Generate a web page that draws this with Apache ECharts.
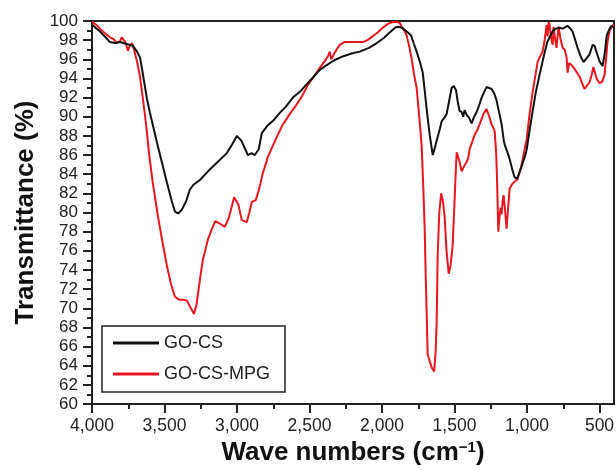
<!DOCTYPE html>
<html>
<head>
<meta charset="utf-8">
<script src="https://cdn.jsdelivr.net/npm/echarts@6/dist/echarts.min.js"></script>
<style>
html,body{margin:0;padding:0;background:#fff;}
#chart{width:616px;height:470px;}
</style>
</head>
<body>
<div id="chart"></div>
<script>
var seriesNames = ['GO-CS', 'GO-CS-MPG'];
var xMajorTicks = [4000, 3500, 3000, 2500, 2000, 1500, 1000, 500];
var xMinorTicks = [3750, 3250, 2750, 2250, 1750, 1250, 750];

var goCS = [
[4000,99.6],[3960,99.1],[3945,98.9],[3900,98.2],[3876,97.8],[3840,97.7],[3807,97.8],[3760,97.6],[3717,97.4],[3690,96.8],
[3669,96.2],[3655,95.0],[3640,93.6],[3620,91.8],[3600,90.4],[3552,87.3],[3483,83.1],[3450,81.2],[3428,80.1],[3405,79.9],
[3380,80.3],[3350,81.2],[3325,82.4],[3300,82.9],[3256,83.4],[3200,84.3],[3139,85.2],[3070,86.2],[3030,87.2],[3001,88.0],
[2970,87.5],[2940,86.5],[2925,86.0],[2900,86.2],[2877,86.0],[2850,86.6],[2829,88.3],[2794,89.0],[2750,89.6],[2705,90.4],
[2660,91.1],[2615,92.0],[2560,92.7],[2519,93.4],[2470,94.2],[2429,94.9],[2381,95.4],[2330,95.9],[2271,96.3],[2210,96.6],
[2153,96.8],[2090,97.2],[2036,97.7],[1990,98.2],[1947,98.8],[1910,99.3],[1892,99.4],[1860,99.3],[1830,98.9],[1800,98.5],
[1780,97.6],[1761,96.8],[1740,95.8],[1719,94.6],[1706,92.8],[1690,90.5],[1670,88.0],[1650,86.0],[1635,86.8],[1623,87.5],
[1600,88.8],[1589,89.5],[1570,89.9],[1554,90.3],[1535,91.8],[1520,93.0],[1505,93.2],[1490,92.8],[1478,91.6],[1465,90.6],
[1451,90.5],[1440,90.0],[1430,90.7],[1416,90.2],[1400,89.9],[1382,89.3],[1365,90.0],[1347,90.5],[1330,91.2],[1313,92.0],
[1295,92.6],[1279,93.1],[1260,93.0],[1244,92.9],[1225,92.4],[1210,91.7],[1190,90.3],[1175,89.2],[1160,87.5],[1150,86.9],
[1135,86.3],[1120,85.6],[1100,84.4],[1086,83.7],[1070,83.5],[1051,84.2],[1020,85.6],[1003,86.5],[980,88.8],[962,90.5],
[940,92.5],[913,94.4],[880,96.6],[860,97.8],[844,98.3],[820,99.0],[800,99.2],[776,99.3],[754,99.2],[721,99.5],
[700,99.2],[686,98.9],[665,97.9],[651,97.2],[630,96.3],[610,95.7],[590,96.1],[569,96.5],[548,97.5],[534,97.4],
[515,96.5],[500,95.8],[479,95.3],[465,96.5],[450,98.5],[430,99.2],[417,99.5],[400,99.3]
];

var goCSMPG = [
[4000,99.9],[3970,99.6],[3945,99.2],[3910,98.7],[3876,98.3],[3850,98.1],[3830,97.7],[3807,97.9],[3795,98.3],[3786,98.1],
[3770,97.8],[3752,96.9],[3740,97.4],[3724,97.7],[3710,97.0],[3690,95.8],[3669,94.2],[3650,92.0],[3635,90.2],[3620,88.2],
[3607,86.2],[3580,83.0],[3545,79.6],[3515,77.0],[3483,74.4],[3455,72.5],[3428,71.2],[3400,70.9],[3380,70.9],[3345,70.8],
[3325,70.2],[3297,69.4],[3280,70.3],[3270,71.4],[3250,73.6],[3235,75.1],[3200,77.2],[3173,78.3],[3150,79.1],[3125,78.9],
[3084,78.5],[3060,79.3],[3040,80.4],[3020,81.6],[3008,81.8],[2990,80.8],[2967,79.2],[2950,79.1],[2932,79.0],[2915,80.0],
[2898,81.1],[2870,81.3],[2845,82.6],[2822,84.1],[2787,85.8],[2740,87.4],[2691,89.0],[2640,90.2],[2588,91.3],[2550,92.2],
[2512,93.3],[2470,94.2],[2429,95.1],[2395,95.8],[2370,96.4],[2360,96.8],[2350,96.0],[2340,96.3],[2310,97.1],[2291,97.5],
[2260,97.8],[2222,97.8],[2180,97.8],[2133,97.8],[2100,98.0],[2064,98.4],[2030,98.8],[1995,99.3],[1960,99.7],[1926,99.9],
[1900,99.9],[1878,99.8],[1860,99.3],[1843,98.9],[1830,98.5],[1810,97.2],[1795,96.0],[1780,94.5],[1761,93.0],[1740,89.5],
[1726,86.8],[1715,82.5],[1706,78.5],[1698,73.0],[1692,69.5],[1685,65.2],[1672,64.5],[1657,63.8],[1640,63.4],[1630,65.5],
[1623,68.5],[1616,75.5],[1605,80.0],[1592,82.0],[1580,81.2],[1568,79.6],[1555,76.0],[1540,73.6],[1527,74.5],[1513,76.5],
[1500,81.0],[1492,84.0],[1485,86.3],[1478,86.4],[1465,85.3],[1451,84.3],[1435,84.8],[1416,85.3],[1405,85.7],[1396,86.6],
[1375,87.5],[1361,88.1],[1340,88.7],[1327,89.2],[1300,90.3],[1279,90.8],[1260,90.0],[1244,89.2],[1223,88.5],[1212,86.0],
[1205,82.5],[1198,78.0],[1190,79.5],[1182,80.5],[1175,79.8],[1168,81.2],[1161,81.8],[1150,80.0],[1141,78.3],[1130,80.5],
[1120,82.5],[1100,83.0],[1086,83.2],[1065,83.5],[1040,84.8],[1020,86.3],[1003,87.6],[982,90.3],[962,92.5],[940,94.5],
[927,95.7],[913,96.2],[893,96.8],[880,97.8],[865,99.6],[858,98.4],[850,99.9],[844,99.6],[835,98.4],[823,97.5],
[817,99.4],[810,98.5],[796,97.2],[788,98.6],[782,99.4],[770,98.2],[754,97.2],[740,97.0],[727,96.2],[720,94.6],
[710,95.6],[700,95.8],[693,95.4],[682,95.6],[672,95.0],[655,94.6],[638,94.2],[620,93.5],[603,92.9],[590,93.0],
[569,93.6],[555,94.3],[542,95.2],[534,95.0],[520,94.0],[500,93.5],[480,93.7],[465,94.4],[455,96.0],[445,97.8],
[430,99.0],[417,99.2],[405,99.6],[400,99.4]
];

var FONT = '"Liberation Sans", Arial, Helvetica, sans-serif';
var INK = '#222';

var chart = echarts.init(document.getElementById('chart'), null, {renderer: 'canvas'});
chart.setOption({
  animation: false,
  backgroundColor: '#fff',
  textStyle: {fontFamily: FONT},
  grid: {left: 92, right: 2, top: 21, bottom: 66, show: true, borderColor: INK, borderWidth: 2,
    backgroundColor: 'transparent', containLabel: false, outerBoundsMode: 'none'},
  legend: {
    data: [{name: seriesNames[0], icon: 'rect'}, {name: seriesNames[1], icon: 'rect'}],
    orient: 'vertical',
    left: 102, top: 326,
    padding: [7, 15, 8, 11],
    itemWidth: 46, itemHeight: 3, itemGap: 11,
    borderColor: INK, borderWidth: 1.5, backgroundColor: '#fff',
    textStyle: {fontSize: 18, color: INK, fontFamily: FONT, lineHeight: 20}
  },
  xAxis: [{
    type: 'value', inverse: true, min: 400, max: 4000,
    name: 'Wave numbers (cm{sup|\u22121})',
    nameLocation: 'middle', nameGap: 34,
    nameTextStyle: {fontSize: 26, fontWeight: 'bold', color: '#111', fontFamily: FONT,
      rich: {sup: {fontSize: 15, fontWeight: 'bold', color: '#111', fontFamily: FONT, verticalAlign: 'top'}}},
    axisLine: {show: true, lineStyle: {color: INK, width: 2}},
    axisTick: {show: true, length: 9, lineStyle: {color: INK, width: 2}, customValues: xMajorTicks},
    axisLabel: {fontSize: 17.5, color: INK, margin: 13, fontFamily: FONT, customValues: xMajorTicks,
      formatter: function (v) { return v.toLocaleString('en-US'); }},
    splitLine: {show: false}
  }, {
    type: 'value', inverse: true, min: 400, max: 4000, position: 'bottom', gridIndex: 0,
    axisLine: {show: false},
    axisTick: {show: true, length: 5, lineStyle: {color: INK, width: 2}, customValues: xMinorTicks},
    axisLabel: {show: false},
    splitLine: {show: false}
  }],
  yAxis: {
    type: 'value', min: 60, max: 100, interval: 2,
    name: 'Transmittance (%)',
    nameLocation: 'middle', nameGap: 53,
    nameTextStyle: {fontSize: 26, fontWeight: 'bold', color: '#111', fontFamily: FONT},
    axisLine: {show: true, lineStyle: {color: INK, width: 2}},
    axisTick: {show: true, length: 9, lineStyle: {color: INK, width: 2}},
    minorTick: {show: true, splitNumber: 2, length: 5, lineStyle: {color: INK, width: 2}},
    axisLabel: {fontSize: 17, color: INK, margin: 14, fontFamily: FONT},
    splitLine: {show: false}
  },
  series: [{
    name: seriesNames[0], type: 'line', data: goCS, symbol: 'none',
    lineStyle: {color: '#111', width: 2}, itemStyle: {color: '#111'}, z: 3
  }, {
    name: seriesNames[1], type: 'line', data: goCSMPG, symbol: 'none',
    lineStyle: {color: '#e8161e', width: 2}, itemStyle: {color: '#e8161e'}, z: 2
  }]
});
</script>
</body>
</html>
